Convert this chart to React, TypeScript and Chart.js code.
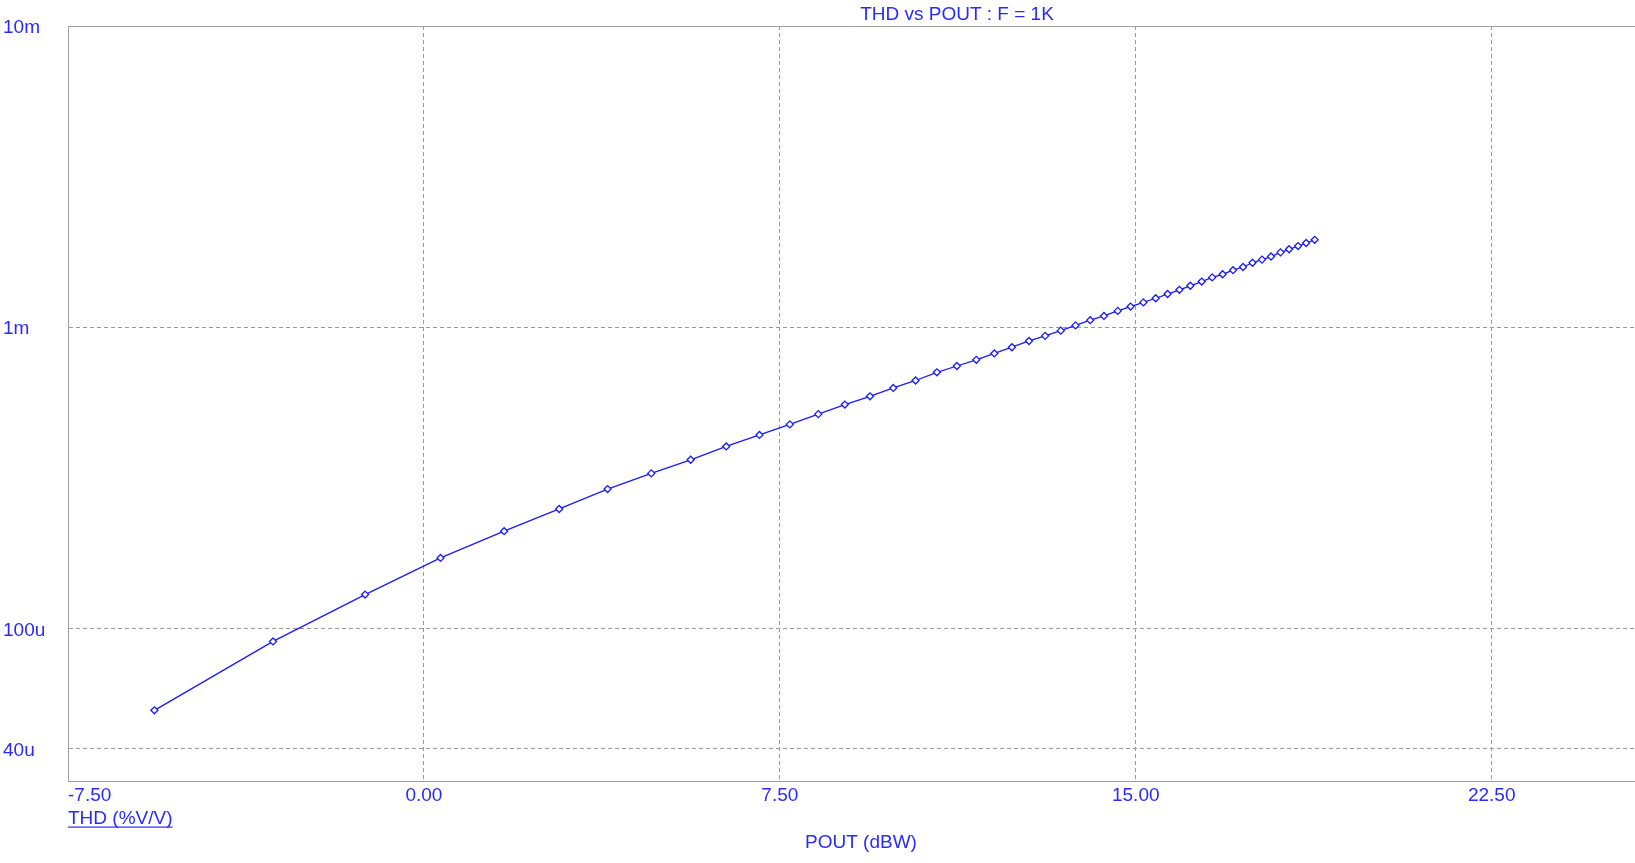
import React, { useEffect, useRef } from "react";
import { Chart, registerables } from "chart.js";

Chart.register(...registerables);

// ---- data ----
const poutDbw = [
  -5.68, -3.18, -1.24, 0.35, 1.69, 2.85, 3.87, 4.79, 5.62, 6.37, 7.07, 7.71,
  8.31, 8.87, 9.4, 9.89, 10.36, 10.81, 11.23, 11.64, 12.02, 12.39, 12.75, 13.09,
  13.42, 13.73, 14.04, 14.33, 14.62, 14.89, 15.16, 15.42, 15.67, 15.92, 16.15, 16.39,
  16.61, 16.83, 17.05, 17.26, 17.46, 17.66, 17.85, 18.05, 18.23, 18.42, 18.59, 18.77,
];
const thdValues = [
  53.7e-6, 90.9e-6, 130e-6, 172e-6, 211e-6, 250e-6, 291e-6, 328e-6, 364e-6, 403e-6, 440e-6, 477e-6,
  516e-6, 555e-6, 591e-6, 630e-6, 667e-6, 710e-6, 745e-6, 781e-6, 820e-6, 860e-6, 902e-6, 938e-6,
  976e-6, 1.016e-3, 1.057e-3, 1.092e-3, 1.135e-3, 1.173e-3, 1.211e-3, 1.25e-3, 1.291e-3, 1.333e-3, 1.375e-3, 1.42e-3,
  1.466e-3, 1.501e-3, 1.549e-3, 1.587e-3, 1.639e-3, 1.679e-3, 1.719e-3, 1.775e-3, 1.817e-3, 1.862e-3, 1.906e-3, 1.953e-3,
];
const xTickValues = [-7.5, 0, 7.5, 15, 22.5];
const xTickLabels = ["-7.50", "0.00", "7.50", "15.00", "22.50"];
const yTickValues = [4e-5, 1e-4, 1e-3, 1e-2];
const yTickLabels = ["40u", "100u", "1m", "10m"];
const titleText = "THD vs POUT : F = 1K";
const yAxisTitle = "THD (%V/V)";
const xAxisTitle = "POUT (dBW)";

const X_MIN = -7.5;
const X_MAX = 25.52;
const Y_MIN = 3.13e-5;
const Y_MAX = 1e-2;

const TEXT = "#2a2aff";
const LINE = "#1a1aff";
const GRID = "#9a9a9a";
const AXIS = "#a0a0a0";
const FONT_FAMILY = '"Liberation Sans", Arial, sans-serif';

const overlayPlugin = {
  id: "overlay",
  beforeDatasetsDraw(chart: any) {
    const { ctx, chartArea } = chart;
    ctx.save();
    ctx.strokeStyle = AXIS;
    ctx.lineWidth = 1;
    ctx.beginPath();
    ctx.moveTo(chartArea.left, chartArea.top + 0.5);
    ctx.lineTo(chartArea.right, chartArea.top + 0.5);
    ctx.stroke();
    ctx.restore();
  },
  afterDraw(chart: any) {
    const { ctx, chartArea } = chart;
    const xs = chart.scales.x;
    const ys = chart.scales.y;
    ctx.save();
    ctx.font = `19px ${FONT_FAMILY}`;
    ctx.fillStyle = TEXT;
    ctx.textBaseline = "alphabetic";
    // y tick labels
    ctx.textAlign = "left";
    yTickValues.forEach((v, i) => {
      const py = ys.getPixelForValue(v);
      ctx.fillText(yTickLabels[i], 3, py + 6.7);
    });
    // x tick labels
    xTickValues.forEach((v, i) => {
      const px = xs.getPixelForValue(v);
      ctx.textAlign = i === 0 ? "left" : "center";
      ctx.fillText(xTickLabels[i], px, chartArea.bottom + 20);
    });
    // title
    ctx.textAlign = "center";
    ctx.fillText(titleText, 957, 20);
    // y axis title (underlined, left)
    ctx.textAlign = "left";
    ctx.fillText(yAxisTitle, chartArea.left, 824);
    const w = ctx.measureText(yAxisTitle).width;
    ctx.fillRect(chartArea.left, 826.5, w, 1.2);
    // x axis title
    ctx.textAlign = "center";
    ctx.fillText(xAxisTitle, 861, 848);
    ctx.restore();
  },
};

export default function App() {
  const ref = useRef<HTMLCanvasElement>(null);

  useEffect(() => {
    if (!ref.current) return;
    const chart = new Chart(ref.current, {
      type: "line",
      data: {
        datasets: [
          {
            data: poutDbw.map((x, i) => ({ x, y: thdValues[i] })),
            borderColor: LINE,
            borderWidth: 1.3,
            backgroundColor: "#ffffff",
            pointStyle: "rectRot",
            pointRadius: 3.5,
            pointBorderWidth: 1.3,
            pointBorderColor: LINE,
            pointBackgroundColor: "#ffffff",
            tension: 0,
            fill: false,
          },
        ],
      },
      options: {
        responsive: false,
        animation: false,
        devicePixelRatio: 1,
        layout: { autoPadding: false, padding: { left: 3, top: 26, right: 0, bottom: 0 } },
        plugins: {
          legend: { display: false },
          tooltip: { enabled: false },
          title: { display: false },
        },
        scales: {
          x: {
            type: "linear",
            min: X_MIN,
            max: X_MAX,
            bounds: "data",
            afterBuildTicks: (s: any) => {
              s.ticks = xTickValues.map((v) => ({ value: v }));
            },
            ticks: { display: false },
            grid: {
              color: (c: any) => (c.tick && c.tick.value === X_MIN ? "rgba(0,0,0,0)" : GRID),
              lineWidth: 1,
              drawTicks: false,
            },
            border: { display: true, color: AXIS, width: 1, dash: [4, 3] },
            afterFit: (s: any) => {
              s.height = 82;
            },
          },
          y: {
            type: "logarithmic",
            position: "left",
            min: Y_MIN,
            max: Y_MAX,
            bounds: "data",
            afterBuildTicks: (s: any) => {
              s.ticks = yTickValues.map((v) => ({ value: v }));
            },
            ticks: { display: false },
            grid: {
              color: (c: any) => (c.tick && c.tick.value === Y_MAX ? "rgba(0,0,0,0)" : GRID),
              lineWidth: 1,
              drawTicks: false,
            },
            border: { display: true, color: AXIS, width: 1, dash: [4, 3] },
            afterFit: (s: any) => {
              s.width = 65;
            },
          },
        },
      } as any,
      plugins: [overlayPlugin],
    });
    return () => chart.destroy();
  }, []);

  return (
    <div style={{ position: "absolute", left: 0, top: 0, width: 1635, height: 863, background: "#ffffff" }}>
      <canvas ref={ref} width={1635} height={863} style={{ display: "block", width: 1635, height: 863 }} />
    </div>
  );
}
